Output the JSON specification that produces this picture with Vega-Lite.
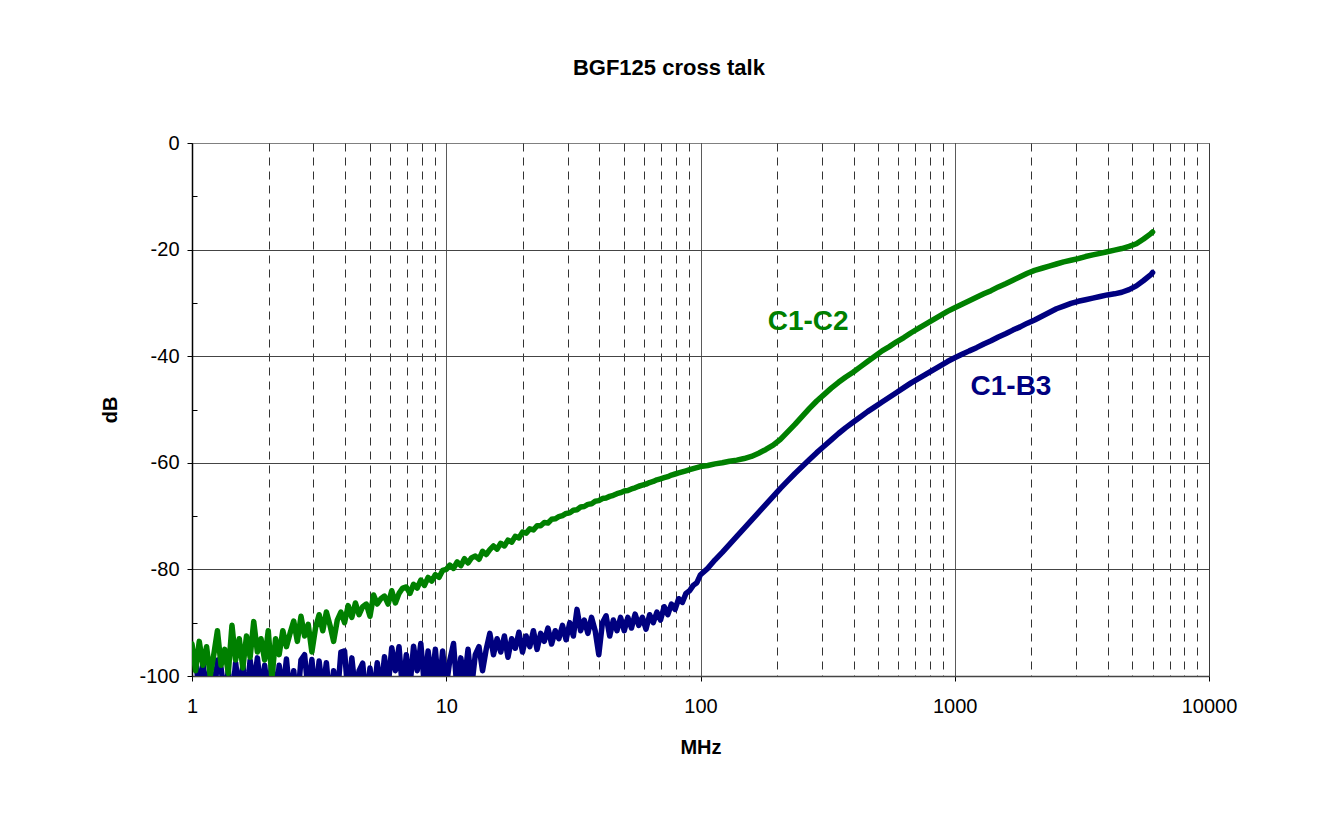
{
  "$schema": "https://vega.github.io/schema/vega-lite/v6.json",
  "width": 1017,
  "height": 533,
  "autosize": {"type": "none"},
  "padding": {"left": 192, "top": 143, "right": 120, "bottom": 139},
  "background": "white",
  "title": {"text": "BGF125 cross talk", "fontSize": 22, "fontWeight": "bold", "font": "Liberation Sans", "color": "#000", "anchor": "middle", "frame": "bounds", "offset": 53},
  "datasets": {
    "series": [
      {"f":1,"g":-94,"b":-95},{"f":1.033,"g":-99,"b":-97},{"f":1.068,"g":-93.5,"b":-103},{"f":1.104,"g":-98,"b":-97.5},
      {"f":1.141,"g":-94.5,"b":-104},{"f":1.179,"g":-100,"b":-98},{"f":1.218,"g":-96,"b":-105},{"f":1.259,"g":-91.5,"b":-97},
      {"f":1.301,"g":-98,"b":-98.5},{"f":1.345,"g":-95,"b":-104},{"f":1.389,"g":-99.5,"b":-99},{"f":1.436,"g":-90.5,"b":-105},
      {"f":1.484,"g":-97,"b":-97.5},{"f":1.534,"g":-93,"b":-103},{"f":1.585,"g":-98.5,"b":-98},{"f":1.638,"g":-92.5,"b":-104},
      {"f":1.693,"g":-96.5,"b":-97},{"f":1.749,"g":-89.8,"b":-102},{"f":1.808,"g":-95.5,"b":-96.6},{"f":1.868,"g":-93,"b":-103},
      {"f":1.931,"g":-97,"b":-98},{"f":1.995,"g":-91.5,"b":-104},{"f":2.062,"g":-100.5,"b":-97},{"f":2.131,"g":-93,"b":-105},
      {"f":2.202,"g":-96,"b":-98},{"f":2.276,"g":-91.5,"b":-103},{"f":2.352,"g":-94.5,"b":-96.8},{"f":2.43,"g":-92,"b":-104},
      {"f":2.512,"g":-89.7,"b":-99},{"f":2.596,"g":-93.5,"b":-105},{"f":2.683,"g":-88.8,"b":-97},{"f":2.772,"g":-92.5,"b":-96},
      {"f":2.865,"g":-90.3,"b":-103},{"f":2.961,"g":-95.5,"b":-96.9},{"f":3.06,"g":-91,"b":-104},{"f":3.162,"g":-88.5,"b":-97.2},
      {"f":3.268,"g":-91.5,"b":-103},{"f":3.377,"g":-88,"b":-97.5},{"f":3.49,"g":-90.5,"b":-105},{"f":3.606,"g":-93.5,"b":-99},
      {"f":3.728,"g":-89.5,"b":-104},{"f":3.852,"g":-88,"b":-95.5},{"f":3.981,"g":-90,"b":-95.3},{"f":4.114,"g":-86.8,"b":-104},
      {"f":4.252,"g":-89,"b":-96.6},{"f":4.394,"g":-86.3,"b":-103},{"f":4.541,"g":-88.5,"b":-99},{"f":4.692,"g":-87,"b":-97.6},
      {"f":4.849,"g":-86.5,"b":-105},{"f":5.012,"g":-88.8,"b":-98.5},{"f":5.179,"g":-84.8,"b":-104},{"f":5.352,"g":-86.5,"b":-97.5},
      {"f":5.531,"g":-85.5,"b":-103},{"f":5.716,"g":-85,"b":-96.4},{"f":5.907,"g":-86.5,"b":-102},{"f":6.105,"g":-84,"b":-94.7},
      {"f":6.309,"g":-86.3,"b":-99},{"f":6.52,"g":-84.5,"b":-94.5},{"f":6.738,"g":-83.5,"b":-103},{"f":6.963,"g":-83.3,"b":-96},
      {"f":7.197,"g":-84.5,"b":-102},{"f":7.437,"g":-82.8,"b":-94.4},{"f":7.686,"g":-83.5,"b":-99},{"f":7.943,"g":-82,"b":-93.9},
      {"f":8.208,"g":-83,"b":-102},{"f":8.483,"g":-81.5,"b":-95.3},{"f":8.767,"g":-82.2,"b":-101},{"f":9.06,"g":-81,"b":-95},
      {"f":9.363,"g":-81.5,"b":-103},{"f":9.676,"g":-80.2,"b":-95.3},{"f":10,"g":-80,"b":-102},
      {"f":10.33,"g":-79.2,"b":-97},{"f":10.68,"g":-79.8,"b":-93.9},{"f":11.04,"g":-78.6,"b":-103},{"f":11.41,"g":-79.3,"b":-96.6},
      {"f":11.79,"g":-78,"b":-101},{"f":12.18,"g":-78.8,"b":-95},{"f":12.59,"g":-77.8,"b":-102},{"f":13.01,"g":-77.5,"b":-96},
      {"f":13.45,"g":-78.1,"b":-94.5},{"f":13.89,"g":-76.6,"b":-99},{"f":14.36,"g":-77.2,"b":-95},{"f":14.84,"g":-76.3,"b":-92},
      {"f":15.34,"g":-75.6,"b":-96},{"f":15.85,"g":-76.2,"b":-93},{"f":16.38,"g":-75.1,"b":-95.5},{"f":16.93,"g":-75.6,"b":-92.5},
      {"f":17.49,"g":-74.5,"b":-96.5},{"f":18.08,"g":-74.9,"b":-93},{"f":18.68,"g":-73.8,"b":-94.8},{"f":19.31,"g":-74.1,"b":-91.8},
      {"f":19.95,"g":-73,"b":-95.5},{"f":20.62,"g":-73.2,"b":-92.5},{"f":21.31,"g":-72.4,"b":-94.5},{"f":22.02,"g":-72.6,"b":-91.5},
      {"f":22.76,"g":-71.8,"b":-95},{"f":23.52,"g":-71.8,"b":-92},{"f":24.3,"g":-71.2,"b":-93.5},{"f":25.12,"g":-71.3,"b":-91},
      {"f":25.96,"g":-70.6,"b":-94},{"f":26.83,"g":-70.5,"b":-91.5},{"f":27.72,"g":-70.1,"b":-93},{"f":28.65,"g":-69.9,"b":-90.5},
      {"f":29.61,"g":-69.5,"b":-93.2},{"f":30.6,"g":-69.4,"b":-90},{"f":31.62,"g":-68.9,"b":-92.5},{"f":32.68,"g":-68.8,"b":-87.5},
      {"f":33.77,"g":-68.3,"b":-91.5},{"f":34.9,"g":-68.2,"b":-89.5},{"f":36.06,"g":-67.8,"b":-92},{"f":37.28,"g":-67.7,"b":-89},
      {"f":38.52,"g":-67.2,"b":-91.5},{"f":39.81,"g":-67.1,"b":-96},{"f":41.14,"g":-66.7,"b":-90},{"f":42.52,"g":-66.6,"b":-88.7},
      {"f":43.94,"g":-66.3,"b":-92.5},{"f":45.41,"g":-66.1,"b":-89.5},{"f":46.92,"g":-65.8,"b":-91.5},{"f":48.49,"g":-65.6,"b":-89},
      {"f":50.12,"g":-65.3,"b":-91.5},{"f":51.79,"g":-65.2,"b":-89},{"f":53.52,"g":-64.9,"b":-91},{"f":55.31,"g":-64.7,"b":-88.4},
      {"f":57.16,"g":-64.4,"b":-90.5},{"f":59.07,"g":-64.2,"b":-89},{"f":61.05,"g":-64,"b":-91.2},{"f":63.09,"g":-63.7,"b":-88.5},
      {"f":65.2,"g":-63.5,"b":-90},{"f":67.38,"g":-63.2,"b":-88},{"f":69.63,"g":-63,"b":-89.5},{"f":71.97,"g":-62.8,"b":-87},
      {"f":74.37,"g":-62.6,"b":-88.5},{"f":76.86,"g":-62.3,"b":-86.5},{"f":79.43,"g":-62.1,"b":-87.5},{"f":82.08,"g":-61.9,"b":-85.5},
      {"f":84.83,"g":-61.7,"b":-86.2},{"f":87.67,"g":-61.5,"b":-84.5},{"f":90.6,"g":-61.3,"b":-84},{"f":93.63,"g":-61.1,"b":-83},
      {"f":96.76,"g":-60.9,"b":-82.5},{"f":100,"g":-60.7,"b":-81},
      {"f":106.8,"g":-60.5,"b":-79.8},{"f":114.1,"g":-60.2,"b":-78.2},{"f":121.8,"g":-60,"b":-76.8},{"f":130.1,"g":-59.7,"b":-75.3},
      {"f":138.9,"g":-59.5,"b":-73.8},{"f":148.4,"g":-59.2,"b":-72.3},{"f":158.5,"g":-58.8,"b":-70.8},{"f":169.3,"g":-58.2,"b":-69.3},
      {"f":180.8,"g":-57.5,"b":-67.8},{"f":193.1,"g":-56.7,"b":-66.3},{"f":206.2,"g":-55.6,"b":-64.8},{"f":220.2,"g":-54.2,"b":-63.4},
      {"f":235.2,"g":-52.8,"b":-62},{"f":251.2,"g":-51.3,"b":-60.7},{"f":268.3,"g":-49.8,"b":-59.4},{"f":286.5,"g":-48.4,"b":-58.1},
      {"f":306,"g":-47.2,"b":-56.9},{"f":326.8,"g":-46,"b":-55.7},{"f":349,"g":-44.9,"b":-54.5},{"f":372.8,"g":-43.9,"b":-53.4},
      {"f":398.1,"g":-43,"b":-52.4},{"f":425.2,"g":-42,"b":-51.4},{"f":454.1,"g":-41,"b":-50.4},{"f":484.9,"g":-40,"b":-49.5},
      {"f":517.9,"g":-39,"b":-48.6},{"f":553.1,"g":-38.2,"b":-47.7},{"f":590.7,"g":-37.3,"b":-46.8},{"f":630.9,"g":-36.5,"b":-45.9},
      {"f":673.8,"g":-35.6,"b":-45},{"f":719.7,"g":-34.8,"b":-44.2},{"f":768.6,"g":-34,"b":-43.4},{"f":820.8,"g":-33.2,"b":-42.6},
      {"f":876.7,"g":-32.4,"b":-41.8},{"f":936.3,"g":-31.6,"b":-41},{"f":1000,"g":-30.9,"b":-40.3},
      {"f":1068,"g":-30.25,"b":-39.65},{"f":1141,"g":-29.6,"b":-39},{"f":1218,"g":-28.95,"b":-38.4},{"f":1301,"g":-28.3,"b":-37.7},
      {"f":1389,"g":-27.7,"b":-37.1},{"f":1484,"g":-27,"b":-36.4},{"f":1585,"g":-26.4,"b":-35.8},{"f":1693,"g":-25.75,"b":-35.1},
      {"f":1808,"g":-25.1,"b":-34.5},{"f":1931,"g":-24.45,"b":-33.8},{"f":2062,"g":-23.9,"b":-33.2},{"f":2202,"g":-23.5,"b":-32.5},
      {"f":2352,"g":-23.1,"b":-31.8},{"f":2512,"g":-22.7,"b":-31.1},{"f":2683,"g":-22.3,"b":-30.6},{"f":2865,"g":-22,"b":-30.1},
      {"f":3060,"g":-21.7,"b":-29.7},{"f":3268,"g":-21.3,"b":-29.4},{"f":3490,"g":-21,"b":-29.1},{"f":3728,"g":-20.7,"b":-28.8},
      {"f":3981,"g":-20.4,"b":-28.5},{"f":4252,"g":-20.1,"b":-28.3},{"f":4541,"g":-19.8,"b":-28},{"f":4849,"g":-19.4,"b":-27.5},
      {"f":5179,"g":-18.9,"b":-26.8},{"f":5531,"g":-18,"b":-25.8},{"f":5907,"g":-17,"b":-24.7},{"f":6000,"g":-16.7,"b":-24.3}
    ],
    "labels": [
      {"f": 265, "v": -33.6, "label": "C1-C2"},
      {"f": 1664, "v": -45.8, "label": "C1-B3"}
    ]
  },
  "encoding": {
    "x": {
      "field": "f", "type": "quantitative",
      "scale": {"type": "log", "domain": [1, 10000], "nice": false},
      "axis": {
        "title": "MHz", "titleFont": "Liberation Sans", "titleFontSize": 20, "titleFontWeight": "bold", "titleColor": "#000", "titlePadding": 21,
        "values": [1,2,3,4,5,6,7,8,9,10,20,30,40,50,60,70,80,90,100,200,300,400,500,600,700,800,900,1000,2000,3000,4000,5000,6000,7000,8000,9000,10000],
        "labelExpr": "abs(log(datum.value)/LN10 - round(log(datum.value)/LN10)) < 0.000001 ? '' + round(datum.value) : ''",
        "labelFont": "Liberation Sans", "labelFontSize": 20, "labelColor": "#000", "labelPadding": 15, "labelFlush": false, "labelOverlap": false,
        "grid": true,
        "gridColor": {"condition": {"test": "abs(log(datum.value)/LN10 - round(log(datum.value)/LN10)) < 0.000001", "value": "#222"}, "value": "#333"},
        "gridDash": {"condition": {"test": "abs(log(datum.value)/LN10 - round(log(datum.value)/LN10)) < 0.000001", "value": [1, 0]}, "value": [8, 6]},
        "gridWidth": 1,
        "tickSize": {"condition": {"test": "abs(log(datum.value)/LN10 - round(log(datum.value)/LN10)) < 0.000001", "value": 5}, "value": 0},
        "tickColor": "#000",
        "domainColor": "#444", "domainWidth": 1.5
      }
    }
  },
  "layer": [
    {
      "data": {"name": "series"},
      "mark": {"type": "line", "color": "#000080", "strokeWidth": 5.5, "strokeJoin": "round", "strokeCap": "round", "clip": true},
      "encoding": {
        "y": {
          "field": "b", "type": "quantitative",
          "scale": {"domain": [-100, 0], "nice": false, "zero": false},
          "axis": {
            "title": "dB", "titleFont": "Liberation Sans", "titleFontSize": 20, "titleFontWeight": "bold", "titleColor": "#000", "titlePadding": 18,
            "values": [-100,-90,-80,-70,-60,-50,-40,-30,-20,-10,0],
            "labelExpr": "datum.value % 20 == 0 ? '' + datum.value : ''",
            "labelFont": "Liberation Sans", "labelFontSize": 20, "labelColor": "#000", "labelPadding": 8, "labelOverlap": false,
            "grid": true, "gridColor": "#444", "gridWidth": 1,
            "gridOpacity": {"condition": {"test": "datum.value % 20 == 0 && datum.value < 0 && datum.value > -100", "value": 1}, "value": 0},
            "tickSize": {"condition": {"test": "datum.value % 20 == 0", "value": 5}, "value": -5},
            "tickColor": "#000",
            "domainColor": "#000", "domainWidth": 1.5
          }
        }
      }
    },
    {
      "data": {"name": "series"},
      "mark": {"type": "line", "color": "#008000", "strokeWidth": 5.5, "strokeJoin": "round", "strokeCap": "round", "clip": true},
      "encoding": {
        "y": {"field": "g", "type": "quantitative"}
      }
    },
    {
      "data": {"name": "labels"},
      "mark": {"type": "text", "font": "Liberation Sans", "fontSize": 28, "fontWeight": "bold", "align": "center", "baseline": "middle"},
      "encoding": {
        "y": {"field": "v", "type": "quantitative"},
        "text": {"field": "label"},
        "color": {"field": "label", "type": "nominal", "scale": {"domain": ["C1-C2", "C1-B3"], "range": ["#008000", "#000080"]}, "legend": null}
      }
    }
  ],
  "config": {
    "view": {"stroke": "#808080", "strokeWidth": 1},
    "font": "Liberation Sans"
  }
}
